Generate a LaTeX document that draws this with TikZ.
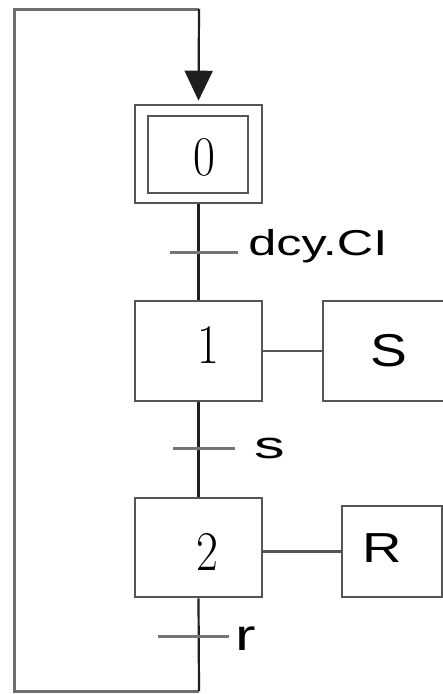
\documentclass[tikz,border=0pt]{standalone}
\usepackage{fontspec}
\newfontfamily\arialf{Liberation Sans}
\usetikzlibrary{arrows.meta}
\definecolor{boxgray}{HTML}{555555}
\definecolor{loopgray}{HTML}{6E6E6E}
\definecolor{bargray}{HTML}{757575}
\definecolor{mainblack}{HTML}{1E1E1E}
\begin{document}
\begin{tikzpicture}[x=1pt,y=-1pt,
  stepbox/.style={draw=boxgray, line width=2.6pt, inner sep=0pt, fill=white},
  actbox/.style={draw=boxgray, line width=2.6pt, inner sep=0pt},
  numtxt/.style={inner sep=0pt, font=\fontsize{56}{56}\selectfont, xscale=0.85},
  lbl/.style={inner sep=0pt, anchor=base west, font=\arialf\fontsize{36}{36}\selectfont, xscale=1.4},
  mainline/.style={draw=mainblack, line width=2.2pt},
  loopline/.style={draw=loopgray, line width=3pt},
  barline/.style={draw=bargray, line width=3pt},
  linkline/.style={draw=boxgray, line width=2.6pt}]
\useasboundingbox (0,0) rectangle (443,694);
\fill[white] (0,0) rectangle (443,694);
% steps
\node[stepbox, minimum width=127pt, minimum height=98pt] (s0) at (198.5,154) {};
\node[stepbox, minimum width=100pt, minimum height=77pt] (s0in) at (198,154.5) {};
\node[stepbox, minimum width=127pt, minimum height=100pt] (s1) at (198.5,351) {};
\node[stepbox, minimum width=127pt, minimum height=99pt] (s2) at (198.5,547.5) {};
\node[numtxt] (n0) at (204,157) {0};
\node[numtxt] (n1) at (208,345) {1};
\node[numtxt] (n2) at (207,552) {2};
% actions
\node[actbox, minimum width=122pt, minimum height=100pt] (aS) at (384,351) {};
\node[actbox, minimum width=100pt, minimum height=91pt] (aR) at (392,551.5) {};
\node[inner sep=0pt, font=\arialf\fontsize{46}{46}\selectfont, xscale=1.2] (tS) at (389,351) {S};
\node[inner sep=0pt, font=\arialf\fontsize{42}{42}\selectfont, xscale=1.3] (tR) at (382,548) {R};
% coordinates
\coordinate (top) at (199,9);
\coordinate (tl) at (14,9);
\coordinate (bl) at (14,691);
\coordinate (br) at (199,691);
\coordinate (t1a) at (170,252);
\coordinate (t1b) at (238,252);
\coordinate (t2a) at (173,448);
\coordinate (t2b) at (235,448);
\coordinate (t3a) at (158,636);
\coordinate (t3b) at (229,636);
% loop
\draw[loopline] (br) -- (bl) -- (tl) -- (top);
\draw[mainline, -{Triangle[length=30pt,width=28pt]}, shorten >=3pt] (top) -- (s0.north);
\draw[mainline] (s0.south) -- (s1.north);
\draw[mainline] (s1.south) -- (s2.north);
\draw[mainline] (s2.south) -- (br);
% transitions
\draw[barline] (t1a) -- (t1b);
\draw[barline] (t2a) -- (t2b);
\draw[barline] (t3a) -- (t3b);
\node[lbl] (l1) at (248,255) {dcy.CI};
\node[lbl, font=\arialf\fontsize{38}{38}\selectfont, xscale=1.15] (l2) at (254,458) {s};
\node[lbl, font=\arialf\fontsize{44}{44}\selectfont, xscale=1.0] (l3) at (235,650) {r};
% links
\draw[linkline] (s1.east) -- (aS.west);
\draw[linkline] (s2.east |- aR.west) -- (aR.west);
\end{tikzpicture}
\end{document}
